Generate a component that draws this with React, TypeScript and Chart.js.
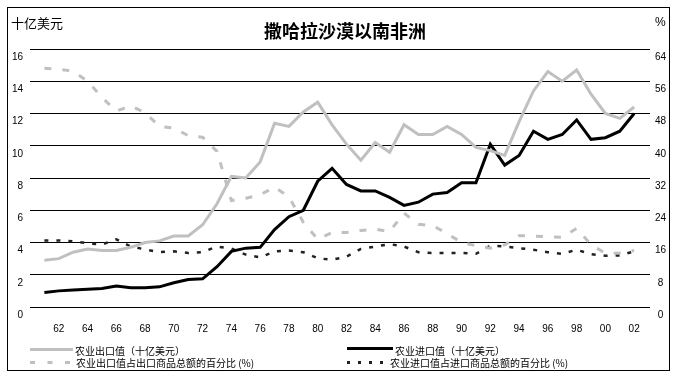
import React, { useEffect, useRef } from 'react';
import { Chart, registerables } from 'chart.js';

Chart.register(...registerables);

const titleText = '撒哈拉沙漠以南非洲';
const leftUnit = '十亿美元';
const rightUnit = '%';

const years = [
  1961, 1962, 1963, 1964, 1965, 1966, 1967, 1968, 1969, 1970,
  1971, 1972, 1973, 1974, 1975, 1976, 1977, 1978, 1979, 1980,
  1981, 1982, 1983, 1984, 1985, 1986, 1987, 1988, 1989, 1990,
  1991, 1992, 1993, 1994, 1995, 1996, 1997, 1998, 1999, 2000,
  2001, 2002,
];

// 农业出口值（十亿美元）
const exportValue = [
  2.9, 3.0, 3.4, 3.6, 3.5, 3.5, 3.7, 4.0, 4.1, 4.4,
  4.4, 5.1, 6.4, 8.1, 8.0, 9.0, 11.4, 11.2, 12.1, 12.7,
  11.3, 10.1, 9.1, 10.2, 9.6, 11.3, 10.7, 10.7, 11.2, 10.7,
  9.9, 9.7, 9.4, 11.5, 13.4, 14.6, 14.0, 14.7, 13.2, 12.0,
  11.7, 12.4,
];

// 农业进口值（十亿美元）
const importValue = [
  0.9, 1.0, 1.05, 1.1, 1.15, 1.3, 1.2, 1.2, 1.25, 1.5,
  1.7, 1.75, 2.5, 3.45, 3.65, 3.7, 4.8, 5.6, 6.0, 7.8,
  8.6, 7.6, 7.2, 7.2, 6.8, 6.3, 6.5, 7.0, 7.1, 7.7,
  7.7, 10.1, 8.8, 9.4, 10.9, 10.4, 10.7, 11.6, 10.4, 10.5,
  10.9, 12.0,
];

// 农业出口值占出口商品总额的百分比 (%)
const exportShare = [
  59.2, 59.0, 58.5, 56.0, 52.0, 48.6, 49.9, 48.2, 44.8, 44.4,
  42.5, 42.1, 38.6, 26.4, 27.0, 27.8, 29.8, 27.3, 21.0, 16.8,
  18.5, 18.5, 19.0, 19.3, 18.7, 23.3, 20.5, 20.2, 18.2, 16.0,
  15.2, 14.6, 15.4, 17.7, 17.6, 17.4, 17.3, 19.5, 15.5, 13.3,
  13.4, 14.0,
];

// 农业进口值占进口商品总额的百分比 (%)
const importShare = [
  16.5, 16.5, 16.3, 15.8, 15.5, 16.8, 15.0, 14.3, 13.6, 13.8,
  13.4, 13.6, 15.0, 14.5, 13.0, 12.3, 13.8, 14.0, 13.6, 12.1,
  11.7, 12.5, 14.4, 15.0, 15.6, 15.0, 13.6, 13.4, 13.4, 13.4,
  13.2, 15.2, 15.0, 14.6, 14.2, 13.6, 13.2, 14.2, 13.1, 12.7,
  12.8, 13.8,
];

const xTickYears = [
  1962, 1964, 1966, 1968, 1970, 1972, 1974, 1976, 1978, 1980, 1982,
  1984, 1986, 1988, 1990, 1992, 1994, 1996, 1998, 2000, 2002,
];
const xTickLabels = [
  '62', '64', '66', '68', '70', '72', '74', '76', '78', '80', '82',
  '84', '86', '88', '90', '92', '94', '96', '98', '00', '02',
];

const seriesLabels = [
  '农业出口值（十亿美元）',
  '农业进口值（十亿美元）',
  '农业出口值占出口商品总额的百分比 (%)',
  '农业进口值占进口商品总额的百分比 (%)',
];

const GRAY = '#c0c0c0';
const DARK = '#222222';

const toPoints = (vals: number[]) => years.map((yr, i) => ({ x: yr, y: vals[i] }));

const decorPlugin = {
  id: 'decor',
  afterDraw(chart: any) {
    const ctx = chart.ctx as CanvasRenderingContext2D;
    ctx.save();
    // outer frame
    ctx.strokeStyle = '#000';
    ctx.lineWidth = 1;
    ctx.setLineDash([]);
    ctx.strokeRect(7.5, 7.5, 662, 363);

    // title and units
    ctx.fillStyle = '#000';
    ctx.textBaseline = 'middle';
    ctx.textAlign = 'center';
    ctx.font = 'bold 18px "Noto Sans CJK SC"';
    ctx.fillText(titleText, 345, 31);
    ctx.textAlign = 'left';
    ctx.font = '13px "Noto Sans CJK SC"';
    ctx.fillText(leftUnit, 11, 23);
    ctx.font = '12px "Liberation Sans"';
    ctx.fillText(rightUnit, 655, 23);

    // legend
    const items = [
      { x0: 30, x1: 73, y: 349.5, tx: 75, ty: 351, w: 3, dash: [] as number[] },
      { x0: 347, x1: 393, y: 348.5, tx: 395, ty: 351, w: 3, dash: [] as number[] },
      { x0: 30, x1: 70, y: 362.5, tx: 76, ty: 363, w: 3, dash: [5, 12.5] },
      { x0: 347, x1: 385, y: 362.5, tx: 390, ty: 363, w: 3, dash: [3, 8] },
    ];
    items.forEach((it, i) => {
      const ds = chart.data.datasets[i];
      ctx.strokeStyle = ds.borderColor;
      ctx.lineWidth = it.w;
      ctx.setLineDash(it.dash);
      ctx.lineCap = 'butt';
      ctx.beginPath();
      ctx.moveTo(it.x0, it.y);
      ctx.lineTo(it.x1, it.y);
      ctx.stroke();
      ctx.setLineDash([]);
      ctx.fillStyle = '#000';
      ctx.font = '10px "Noto Sans CJK SC"';
      ctx.textAlign = 'left';
      ctx.textBaseline = 'middle';
      ctx.fillText(ds.label, it.tx, it.ty);
    });
    ctx.restore();
  },
};

export default function App() {
  const canvasRef = useRef<HTMLCanvasElement | null>(null);

  useEffect(() => {
    const canvas = canvasRef.current;
    if (!canvas) return;
    const tickFont = { family: '"Liberation Sans", Arial, sans-serif', size: 10 };
    const chart = new Chart(canvas, {
      type: 'line',
      data: {
        datasets: [
          {
            label: seriesLabels[0],
            data: toPoints(exportValue),
            yAxisID: 'y',
            borderColor: GRAY,
            borderWidth: 3,
            pointRadius: 0,
            tension: 0,
            fill: false,
          },
          {
            label: seriesLabels[1],
            data: toPoints(importValue),
            yAxisID: 'y',
            borderColor: '#000000',
            borderWidth: 3,
            pointRadius: 0,
            tension: 0,
            fill: false,
          },
          {
            label: seriesLabels[2],
            data: toPoints(exportShare),
            yAxisID: 'y2',
            borderColor: GRAY,
            borderWidth: 3,
            borderDash: [7, 11],
            pointRadius: 0,
            tension: 0,
            fill: false,
          },
          {
            label: seriesLabels[3],
            data: toPoints(importShare),
            yAxisID: 'y2',
            borderColor: DARK,
            borderWidth: 2.5,
            borderDash: [4, 8],
            pointRadius: 0,
            tension: 0,
            fill: false,
          },
        ],
      },
      options: {
        responsive: false,
        animation: false,
        events: [],
        layout: { padding: { left: 8, right: 7, top: 49, bottom: 0 } },
        plugins: {
          legend: { display: false },
          title: { display: false },
          tooltip: { enabled: false },
        },
        scales: {
          x: {
            type: 'linear',
            min: 1960,
            max: 2003.1,
            grid: { display: false, drawTicks: false },
            border: { display: false },
            afterBuildTicks: (scale: any) => {
              scale.ticks = xTickYears.map((v) => ({ value: v }));
            },
            afterFit: (scale: any) => {
              scale.height = 73;
            },
            ticks: {
              font: tickFont,
              color: '#000',
              padding: 16,
              maxRotation: 0,
              autoSkip: false,
              callback: (_v: any, i: number) => xTickLabels[i],
            },
          },
          y: {
            type: 'linear',
            position: 'left',
            min: 0,
            max: 16,
            grid: { color: '#000', lineWidth: 1, drawTicks: false },
            border: { display: false },
            afterFit: (scale: any) => {
              scale.width = 22;
            },
            ticks: {
              stepSize: 2,
              font: tickFont,
              color: '#000',
              padding: 7,
              labelOffset: 8,
            },
          },
          y2: {
            type: 'linear',
            position: 'right',
            min: 0,
            max: 64,
            grid: { display: false, drawTicks: false },
            border: { display: false },
            afterFit: (scale: any) => {
              scale.width = 22;
            },
            ticks: {
              stepSize: 8,
              font: tickFont,
              color: '#000',
              padding: 5,
              crossAlign: 'center',
              labelOffset: 8,
            },
          },
        },
      },
      plugins: [decorPlugin],
    } as any);
    return () => chart.destroy();
  }, []);

  return (
    <div style={{ position: 'absolute', left: 0, top: 0, width: 679, height: 380, background: '#fff' }}>
      <canvas ref={canvasRef} width={679} height={380} style={{ display: 'block', width: 679, height: 380 }} />
    </div>
  );
}
